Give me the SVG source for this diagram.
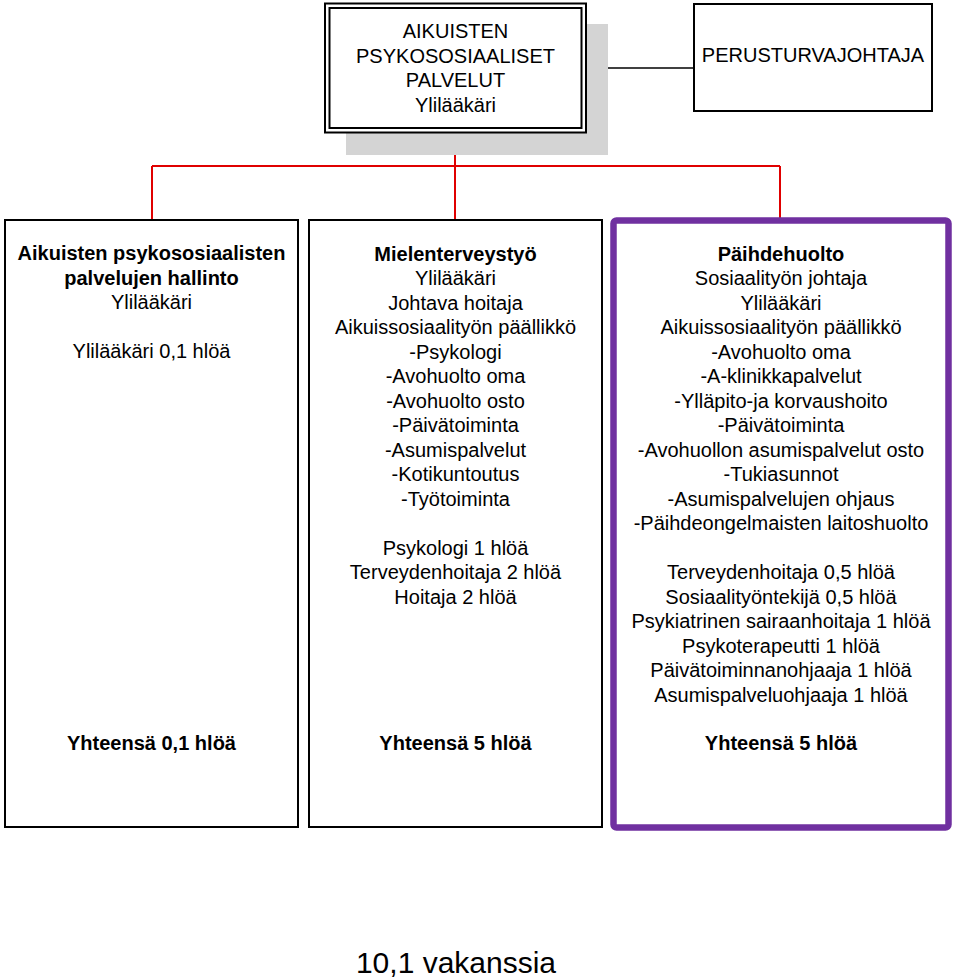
<svg xmlns="http://www.w3.org/2000/svg" width="960" height="979" viewBox="0 0 960 979">
<style>
text{font-family:"Liberation Sans",Arial,sans-serif;font-size:20px;fill:#000;text-anchor:middle}
.b{font-weight:bold}
.box{fill:#fff;stroke:#000;stroke-width:2}
.red{stroke:#e00000;stroke-width:2;fill:none}
</style>
<rect width="960" height="979" fill="#fff"/>
<g id="connectors">
<path class="red" d="M455,132V166M152,166H780M152,166V220M455,166V220M780,166V218"/>
<path d="M586,68H694" stroke="#000" stroke-width="1.5" fill="none"/>
</g>
<g id="top">
<rect x="346" y="24" width="262" height="131" fill="#d4d4d4"/>
<rect x="325" y="3.5" width="261" height="129" class="box"/>
<rect x="329.5" y="8" width="252" height="120" fill="none" stroke="#000" stroke-width="2"/>
<text x="455.5" y="38">AIKUISTEN</text>
<text x="455.5" y="62.5">PSYKOSOSIAALISET</text>
<text x="455.5" y="87">PALVELUT</text>
<text x="455.5" y="111.5">Ylilääkäri</text>
</g>
<g id="perusturva">
<rect x="694" y="4" width="238" height="107" class="box"/>
<text x="813" y="62">PERUSTURVAJOHTAJA</text>
</g>
<g id="hallinto">
<rect x="5" y="220" width="293" height="607" class="box"/>
<text x="151.5" y="260" class="b">Aikuisten psykososiaalisten</text>
<text x="151.5" y="284.5" class="b">palvelujen hallinto</text>
<text x="151.5" y="309">Ylilääkäri</text>
<text x="151.5" y="358">Ylilääkäri 0,1 hlöä</text>
<text x="151.5" y="750" class="b">Yhteensä 0,1 hlöä</text>
</g>
<g id="mielenterveys">
<rect x="309" y="220" width="293" height="607" class="box"/>
<text x="455.5" y="260.5" class="b">Mielenterveystyö</text>
<text x="455.5" y="285">Ylilääkäri</text>
<text x="455.5" y="309.5">Johtava hoitaja</text>
<text x="455.5" y="334">Aikuissosiaalityön päällikkö</text>
<text x="455.5" y="358.5">-Psykologi</text>
<text x="455.5" y="383">-Avohuolto oma</text>
<text x="455.5" y="407.5">-Avohuolto osto</text>
<text x="455.5" y="432">-Päivätoiminta</text>
<text x="455.5" y="456.5">-Asumispalvelut</text>
<text x="455.5" y="481">-Kotikuntoutus</text>
<text x="455.5" y="505.5">-Työtoiminta</text>
<text x="455.5" y="554.5">Psykologi 1 hlöä</text>
<text x="455.5" y="579">Terveydenhoitaja 2 hlöä</text>
<text x="455.5" y="603.5">Hoitaja 2 hlöä</text>
<text x="455.5" y="750" class="b">Yhteensä 5 hlöä</text>
</g>
<g id="paihdehuolto">
<rect x="613.5" y="220.5" width="335" height="607" rx="3" fill="#fff" stroke="#7030a0" stroke-width="6.5"/>
<text x="781" y="260.5" class="b">Päihdehuolto</text>
<text x="781" y="285">Sosiaalityön johtaja</text>
<text x="781" y="309.5">Ylilääkäri</text>
<text x="781" y="334">Aikuissosiaalityön päällikkö</text>
<text x="781" y="358.5">-Avohuolto oma</text>
<text x="781" y="383">-A-klinikkapalvelut</text>
<text x="781" y="407.5">-Ylläpito-ja korvaushoito</text>
<text x="781" y="432">-Päivätoiminta</text>
<text x="781" y="456.5">-Avohuollon asumispalvelut osto</text>
<text x="781" y="481">-Tukiasunnot</text>
<text x="781" y="505.5">-Asumispalvelujen ohjaus</text>
<text x="781" y="530">-Päihdeongelmaisten laitoshuolto</text>
<text x="781" y="579">Terveydenhoitaja 0,5 hlöä</text>
<text x="781" y="603.5">Sosiaalityöntekijä 0,5 hlöä</text>
<text x="781" y="628">Psykiatrinen sairaanhoitaja 1 hlöä</text>
<text x="781" y="652.5">Psykoterapeutti 1 hlöä</text>
<text x="781" y="677">Päivätoiminnanohjaaja 1 hlöä</text>
<text x="781" y="701.5">Asumispalveluohjaaja 1 hlöä</text>
<text x="781" y="750" class="b">Yhteensä 5 hlöä</text>
</g>
<text x="456" y="973" style="font-size:30px">10,1 vakanssia</text>
</svg>
